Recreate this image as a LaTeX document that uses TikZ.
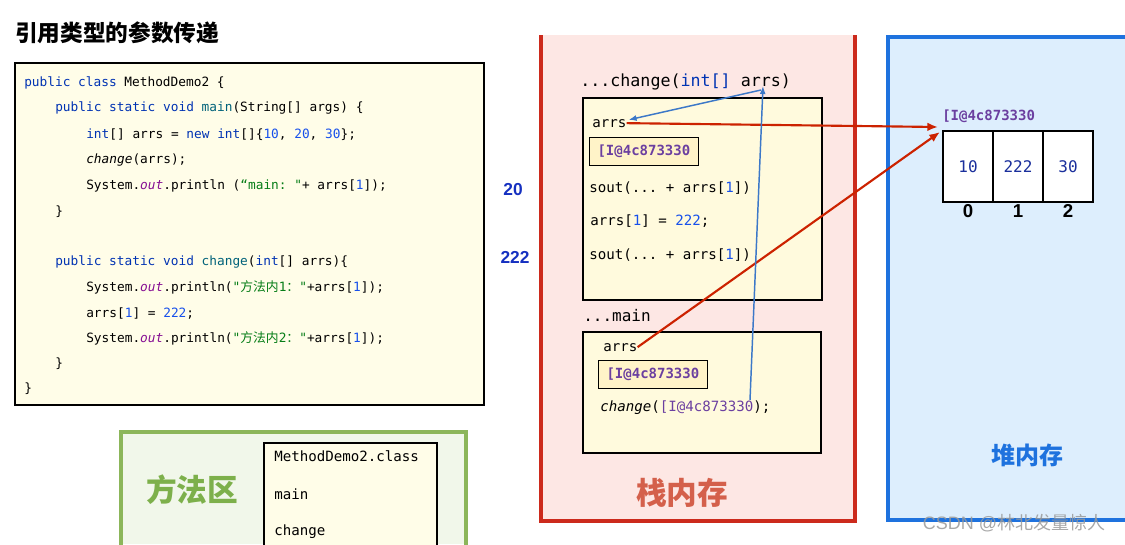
\documentclass[tikz,border=0pt]{standalone}
\usepackage{fontspec}
\setmonofont{DejaVu Sans Mono}
\setsansfont{Liberation Sans}
\newfontfamily\cjk{Noto Sans CJK SC}
\usetikzlibrary{positioning,calc,arrows.meta}

\definecolor{kwblue}{HTML}{0033B3}
\definecolor{numblue}{HTML}{1750EB}
\definecolor{fnteal}{HTML}{00627A}
\definecolor{strgreen}{HTML}{067D17}
\definecolor{outpurple}{HTML}{871094}
\definecolor{addrpurple}{HTML}{6B3FA0}
\definecolor{codefill}{HTML}{FFFDE8}
\definecolor{framefill}{HTML}{FFFADD}
\definecolor{addrfill}{HTML}{FFF3C8}
\definecolor{stackfill}{HTML}{FDE7E4}
\definecolor{stackred}{HTML}{CC2A1C}
\definecolor{stacktext}{HTML}{D4604B}
\definecolor{heapfill}{HTML}{DDEEFD}
\definecolor{heapblue}{HTML}{1E72DE}
\definecolor{methfill}{HTML}{F1F7EA}
\definecolor{methgreen}{HTML}{8CB65A}
\definecolor{methtext}{HTML}{7DB04B}
\definecolor{cellblue}{HTML}{1A2F9C}
\definecolor{valblue}{HTML}{1530C0}
\definecolor{arrred}{HTML}{CC2200}
\definecolor{arrblue}{HTML}{3C78C8}

\newcommand\jkw[1]{\textcolor{kwblue}{#1}}
\newcommand\jnum[1]{\textcolor{numblue}{#1}}
\newcommand\jstr[1]{\textcolor{strgreen}{#1}}
\newcommand\jfn[1]{\textcolor{fnteal}{#1}}
\newcommand\jout{\textcolor{outpurple}{\itshape out}}
\newcommand\jaddr{\textcolor{addrpurple}{[I@4c873330}}

\begin{document}
\begin{tikzpicture}[x=0.75pt,y=-0.75pt,
    code/.style={anchor=base west,inner sep=0pt,font=\ttfamily\fontsize{9.6}{11}\selectfont},
    stk/.style={anchor=base west,inner sep=0pt,font=\ttfamily\fontsize{10.6}{12}\selectfont},
    addr/.style={draw=black,fill=addrfill,line width=0.8pt,anchor=north west,minimum height=21pt,
        inner xsep=6pt,font=\ttfamily\bfseries\fontsize{10.5}{12}\selectfont,text=addrpurple},
    cell/.style={draw=black,fill=white,line width=1.5pt,outer sep=0pt,minimum width=37.5pt,minimum height=53.25pt,
        inner sep=0pt,font=\ttfamily\fontsize{12}{14}\selectfont,text=cellblue},
    idx/.style={inner sep=1pt,font=\sffamily\bfseries\fontsize{14}{16}\selectfont},
    val/.style={font=\sffamily\bfseries\fontsize{13}{15}\selectfont,text=valblue},
    bigcjk/.style={font=\cjk\bfseries\fontsize{23}{26}\selectfont},
    redarr/.style={draw=arrred,line width=1.6pt,-{Latex[length=8pt,width=6.5pt]}},
    bluearr/.style={draw=arrblue,line width=1.1pt,-{Latex[length=6pt,width=4.5pt]}}]

\useasboundingbox (0,0) rectangle (1125,544);

\def\xa{24} % indent levels
\def\xb{55}
\def\xc{86}

% title and source code
\node[anchor=west,inner sep=0pt,font=\cjk\bfseries\fontsize{17}{20}\selectfont] (title) at (15,33) {引用类型的参数传递};
\draw[fill=codefill,line width=1pt] (15,63) rectangle (484,405);
\node[code] (l1) at (\xa,86) {\jkw{public} \jkw{class} MethodDemo2 \{};
\node[code] (l2) at (\xb,111) {\jkw{public} \jkw{static} \jkw{void} \jfn{main}(String[] args) \{};
\node[code] (l3) at (\xc,138) {\jkw{int}[] arrs = \jkw{new} \jkw{int}[]\{\jnum{10}, \jnum{20}, \jnum{30}\};};
\node[code] (l4) at (\xc,163) {{\itshape change}(arrs);};
\node[code] (l5) at (\xc,189) {System.\jout.println (\jstr{“main: "}+ arrs[\jnum{1}]);};
\node[code] (l6) at (\xb,215) {\}};
\node[code] (l7) at (\xb,265) {\jkw{public} \jkw{static} \jkw{void} \jfn{change}(\jkw{int}[] arrs)\{};
\node[code] (l8) at (\xc,291) {System.\jout.println(\jstr{"{\cjk 方法内}1{\cjk ：}"}+arrs[\jnum{1}]);};
\node[code] (l9) at (\xc,317) {arrs[\jnum{1}] = \jnum{222};};
\node[code] (l10) at (\xc,342) {System.\jout.println(\jstr{"{\cjk 方法内}2{\cjk ：}"}+arrs[\jnum{1}]);};
\node[code] (l11) at (\xb,367) {\}};
\node[code] (l12) at (\xa,392) {\}};

% method area
\fill[methfill] (121,432) rectangle (466,544);
\draw[methgreen,line width=2.5pt] (121,545) -- (121,432) -- (466,432) -- (466,545);
\draw[fill=codefill,line width=0.8pt] (264,545) -- (264,443) -- (437,443) -- (437,545);
\node[bigcjk,text=methtext] (meth) at (192,490) {方法区};
\node[stk] (mc) at (274,461) {MethodDemo2.class};
\node[stk] (mm) at (274,499) {main};
\node[stk] (mch) at (274,535) {change};

% printed values
\node[val] (v1) at (513,190) {20};
\node[val] (v2) at (515,257) {222};

% stack
\fill[stackfill] (541,35) rectangle (855,521);
\draw[stackred,line width=2.5pt] (541,35) -- (541,521) -- (855,521) -- (855,35);
\node[bigcjk,text=stacktext] (stack) at (682,493) {栈内存};

\node[anchor=base west,inner sep=0pt,font=\ttfamily\fontsize{12.5}{14}\selectfont] (hdC) at (580,86)
    {...change(\textcolor{kwblue}{int[]} arrs)};
\draw[fill=framefill,line width=0.8pt] (583,98) rectangle (822,300);
\node[stk] (arrsC) at (592,127) {arrs};
\node[addr] (boxC) at (589,137) {[I@4c873330};
\node[stk] (s1) at (589,192) {sout(... + arrs[\jnum{1}])};
\node[stk] (s2) at (590,225) {arrs[\jnum{1}] = \jnum{222};};
\node[stk] (s3) at (589,259) {sout(... + arrs[\jnum{1}])};

\node[anchor=base west,inner sep=0pt,font=\ttfamily\fontsize{12}{14}\selectfont] (hdM) at (583,321) {...main};
\draw[fill=framefill,line width=0.8pt] (583,332) rectangle (821,453);
\node[stk] (arrsM) at (603,351) {arrs};
\node[addr] (boxM) at (598,360) {[I@4c873330};
\node[stk] (callM) at (600,411) {{\itshape change}(\jaddr);};

% heap
\fill[heapfill] (888,37) rectangle (1125,520);
\draw[heapblue,line width=2.5pt] (1126,37) -- (888,37) -- (888,520) -- (1126,520);
\node[font=\cjk\bfseries\fontsize{18}{21}\selectfont,text=heapblue] (heap) at (1027,455) {堆内存};

\node[cell,anchor=north west] (c0) at (943,131) {10};
\node[cell,right=0pt of c0] (c1) {222};
\node[cell,right=0pt of c1] (c2) {30};
\node[idx,below=1pt of c0] (i0) {0};
\node[idx,below=1pt of c1] (i1) {1};
\node[idx,below=1pt of c2] (i2) {2};
\node[anchor=west,inner sep=0pt,font=\ttfamily\bfseries\fontsize{10.5}{12}\selectfont,text=addrpurple] (haddr) at (942,116) {[I@4c873330};

\node[font=\sffamily\fontsize{13.5}{15}\selectfont,text=gray!80,opacity=0.85] (mark) at (1014,523) {CSDN @{\cjk 林北发量惊人}};

% references
\coordinate (callEnd) at (750,400);
\coordinate (param) at (763,86);
\coordinate (paramFrom) at (761,90);
\draw[redarr] (arrsC.east) -- ($(c0.north west)+(-5,-4)$);
\draw[redarr] (arrsM.east) -- ($(c0.north west)+(-3,1)$);
\draw[bluearr] (callEnd) -- (param);
\draw[bluearr] (paramFrom) -- ($(arrsC.north east)+(2,1)$);
\end{tikzpicture}
\end{document}
